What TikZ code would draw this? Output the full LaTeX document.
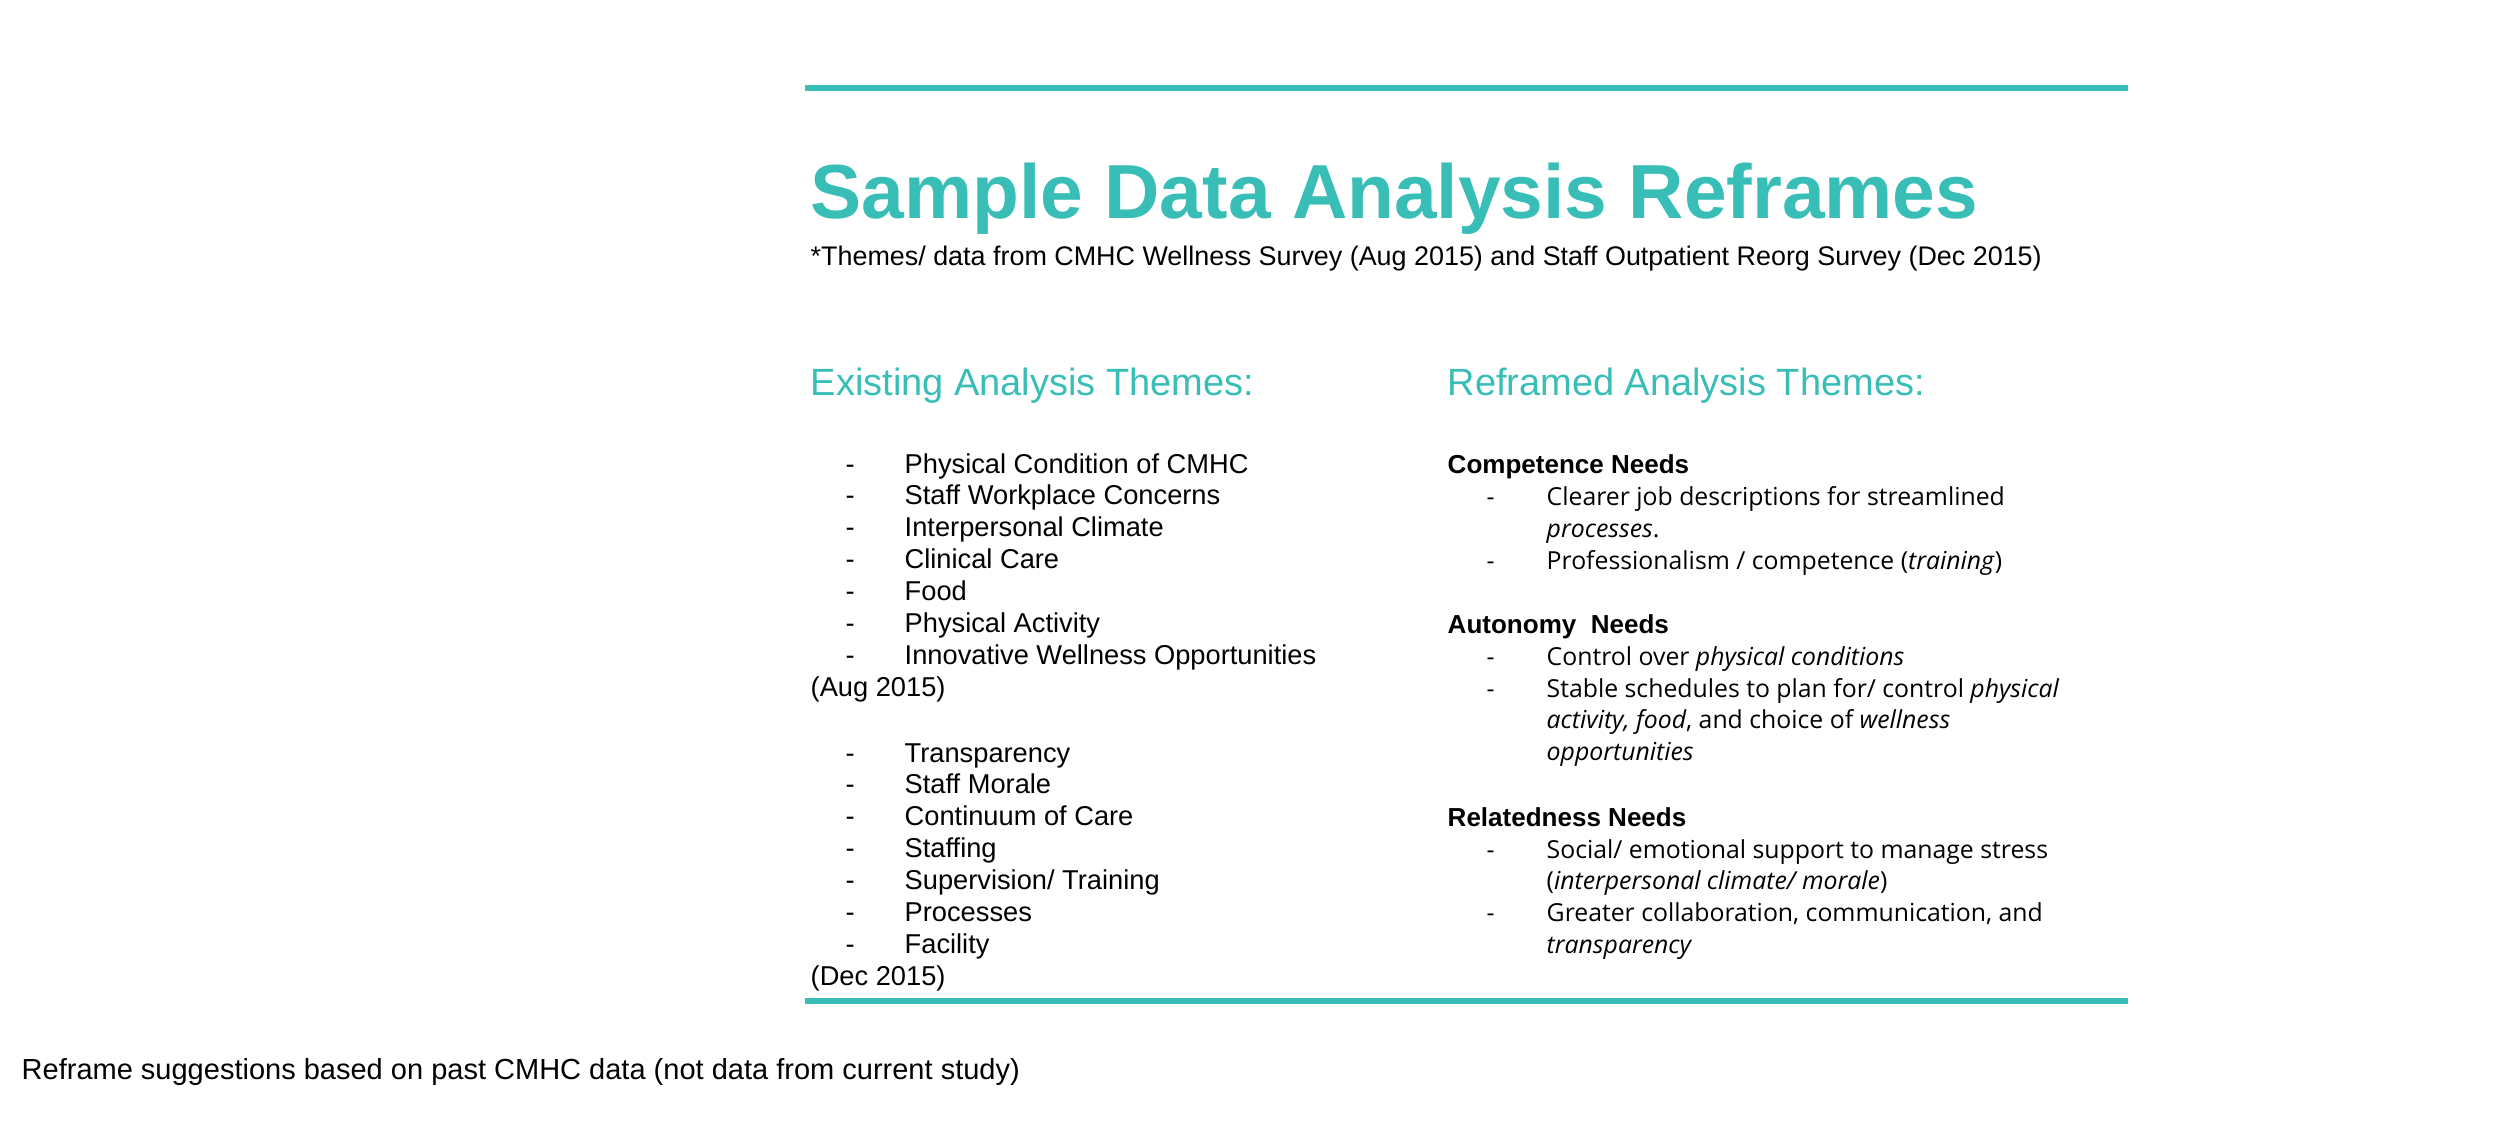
\documentclass[tikz,border=0pt]{standalone}
\usepackage{fontspec}
\setmainfont{Liberation Sans}
\newfontfamily\itemfont{Open Sans}
\definecolor{teal}{RGB}{56,190,183}
\tikzset{
  txt/.style={anchor=base west, inner sep=0pt},
  leftitem/.style={txt, font=\fontsize{7.75}{9}\selectfont},
  rightitem/.style={txt, font=\itemfont\fontsize{7.05}{9}\selectfont},
  needs/.style={leftitem, font=\bfseries\fontsize{7.4}{9}\selectfont},
  head/.style={txt, text=teal, font=\fontsize{10.8}{12}\selectfont},
  rule/.style={draw=teal, line width=6*0.01cm}
}
\begin{document}
\begin{tikzpicture}[x=0.01cm, y=-0.01cm]
\useasboundingbox (0,0) rectangle (2500,1120);

% rules
\coordinate (topL) at (805,88);
\coordinate (topR) at (2128,88);
\coordinate (botL) at (805,1001);
\coordinate (botR) at (2128,1001);
\draw[rule] (topL) -- (topR);
\draw[rule] (botL) -- (botR);

% title
\node[txt, text=teal, font=\bfseries\fontsize{21.8}{26}\selectfont] (title) at (810,218) {Sample Data Analysis Reframes};
\node[txt, font=\fontsize{7.65}{9}\selectfont] (sub) at (810,265) {*Themes/ data from CMHC Wellness Survey (Aug 2015) and Staff Outpatient Reorg Survey (Dec 2015)};

% column heads
\node[head] (exist) at (810,395) {Existing Analysis Themes:};
\node[head] (refr) at (1447,395) {Reframed Analysis Themes:};

% existing themes
\foreach \t [count=\i from 0] in {Physical Condition of CMHC, Staff Workplace Concerns, Interpersonal Climate, Clinical Care, Food, Physical Activity, Innovative Wellness Opportunities} {
  \node[leftitem] (a\i) at (845,473+31.9*\i) {-};
  \node[leftitem] (at\i) at (904,473+31.9*\i) {\t};
}
\node[leftitem] (aug) at (810,696) {(Aug 2015)};
\foreach \t [count=\i from 0] in {Transparency, Staff Morale, Continuum of Care, Staffing, Supervision/ Training, Processes, Facility} {
  \node[leftitem] (b\i) at (845,762+31.9*\i) {-};
  \node[leftitem] (bt\i) at (904,762+31.9*\i) {\t};
}
\node[leftitem] (dec) at (810,985) {(Dec 2015)};

% reframed themes
\node[needs] (comp) at (1447,473) {Competence Needs};
\node[rightitem] (c1) at (1486,505) {-};
\node[rightitem] (ct1) at (1546,505) {Clearer job descriptions for streamlined};
\node[rightitem] (ct1b) at (1546,537) {\textit{processes}.};
\node[rightitem] (c2) at (1486,569) {-};
\node[rightitem] (ct2) at (1546,569) {Professionalism / competence (\textit{training})};

\node[needs] (auto) at (1447,633) {Autonomy\ \ Needs};
\node[rightitem] (d1) at (1486,665) {-};
\node[rightitem] (dt1) at (1546,665) {Control over \textit{physical conditions}};
\node[rightitem] (d2) at (1486,697) {-};
\node[rightitem] (dt2) at (1546,697) {Stable schedules to plan for/ control \textit{physical}};
\node[rightitem] (dt2b) at (1546,728) {\textit{activity, food}, and choice of \textit{wellness}};
\node[rightitem] (dt2c) at (1546,760) {\textit{opportunities}};

\node[needs] (rel) at (1447,826) {Relatedness Needs};
\node[rightitem] (e1) at (1486,858) {-};
\node[rightitem] (et1) at (1546,858) {Social/ emotional support to manage stress};
\node[rightitem] (et1b) at (1546,889) {(\textit{interpersonal climate/ morale})};
\node[rightitem] (e2) at (1486,921) {-};
\node[rightitem] (et2) at (1546,921) {Greater collaboration, communication, and};
\node[rightitem] (et2b) at (1546,953) {\textit{transparency}};

% footer
\node[txt, font=\fontsize{8.25}{9}\selectfont] (foot) at (21,1079) {Reframe suggestions based on past CMHC data (not data from current study)};
\end{tikzpicture}
\end{document}
